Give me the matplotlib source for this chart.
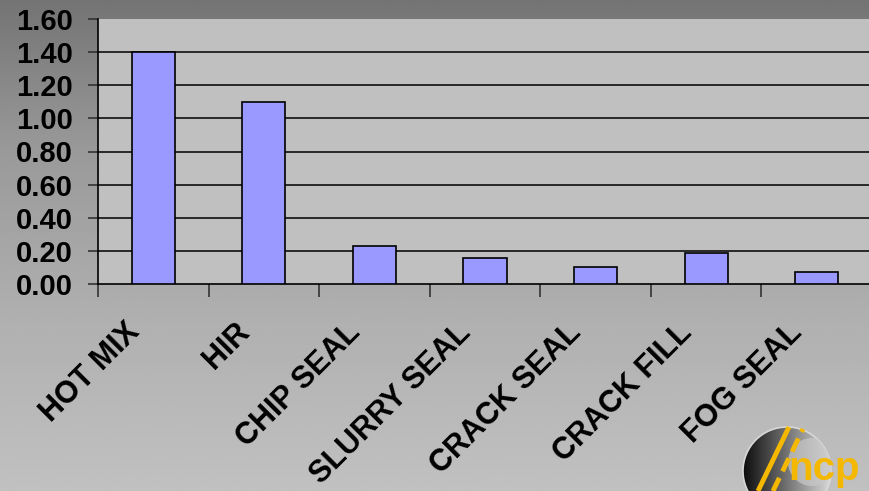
import numpy as np
import matplotlib
matplotlib.use("Agg")
import matplotlib.pyplot as plt
import matplotlib.transforms as mtransforms
from matplotlib.patches import Circle

# dados
tratamentos = ["HOT MIX", "HIR", "CHIP SEAL", "SLURRY SEAL", "CRACK SEAL", "CRACK FILL", "FOG SEAL"]
valores = [1.40, 1.10, 0.23, 0.155, 0.10, 0.19, 0.07]
marcas_y = [0.00, 0.20, 0.40, 0.60, 0.80, 1.00, 1.20, 1.40, 1.60]

plt.rcParams['font.family'] = ['Liberation Sans', 'DejaVu Sans']
plt.rcParams['font.weight'] = 'bold'

fig = plt.figure(figsize=(8.7, 4.91), dpi=100)

# fundo em degrade (cinza escuro em cima, claro embaixo)
fundo = fig.add_axes([0, 0, 1, 1], zorder=0)
pos = np.linspace(0, 1, 200)
tons = np.interp(pos, [0, 0.3, 0.65, 1.0], [0.455, 0.60, 0.69, 0.755])
fundo.imshow(np.repeat(tons[:, None], 2, axis=1), cmap='gray', vmin=0, vmax=1,
             aspect='auto', extent=[0, 1, 1, 0], interpolation='bilinear')
fundo.set_xlim(0, 1)
fundo.set_ylim(1, 0)
fundo.axis('off')

ax = fig.add_axes([98/870, 1 - 284/491, 774/870, 265/491], zorder=1)
ax.set_facecolor('#c0c0c0')

x = np.arange(len(tratamentos))
ax.bar(x, valores, width=0.39, color='#9999ff', edgecolor='black', linewidth=1.2, zorder=3)

ax.set_xlim(-0.5, len(tratamentos) - 0.5)
ax.set_ylim(0, 1.6)
ax.set_yticks(marcas_y)
ax.set_yticklabels(["%.2f" % v for v in marcas_y], fontsize=21, fontweight='bold')
for v in marcas_y[1:-1]:
    ax.axhline(v, color='black', linewidth=1.1, zorder=2)

ax.set_xticks(x)
ax.set_xticklabels(tratamentos, fontsize=22, fontweight='bold', rotation=45, ha='right', va='top')
ax.set_xticks(np.arange(len(tratamentos) + 1) - 0.5, minor=True)
ax.tick_params(axis='x', which='major', length=0, pad=24)
ax.tick_params(axis='x', which='minor', length=9, width=1.2, direction='out', color='#333333')
ax.tick_params(axis='y', length=7, width=1.2, direction='out', pad=11, color='#333333')

deslocamento = mtransforms.ScaledTranslation(-8/100, 0, fig.dpi_scale_trans)
for rotulo in ax.get_xticklabels():
    rotulo.set_transform(rotulo.get_transform() + deslocamento)

ax.spines['top'].set_visible(False)
ax.spines['right'].set_visible(False)
ax.spines['left'].set_linewidth(1.2)
ax.spines['bottom'].set_linewidth(1.2)

# logotipo ncp no canto
logo = fig.add_axes([0, 0, 1, 1], zorder=2)
logo.set_xlim(0, 870)
logo.set_ylim(491, 0)
logo.axis('off')
circulo = Circle((787, 471), 44, facecolor='none', edgecolor='#d8d8d8', linewidth=1.2)
logo.add_patch(circulo)
degrade = np.linspace(0.05, 0.85, 100)[None, :]
img = logo.imshow(np.repeat(degrade, 2, axis=0), cmap='gray', vmin=0, vmax=1,
                  extent=[743, 831, 515, 427], aspect='auto', interpolation='bilinear')
img.set_clip_path(circulo)
logo.add_patch(Circle((812, 462), 24, facecolor='#c8c8c8', edgecolor='none', alpha=0.7, clip_path=circulo))
logo.plot([758, 789], [491, 427], color='#f5b800', linewidth=3.5, solid_capstyle='butt')
logo.plot([773, 803], [491, 429], color='#f5b800', linewidth=3.5, linestyle=(0, (3, 1.5)))
logo.text(788, 480, "ncp", color='#f5b800', fontsize=29, fontweight='bold', ha='left', va='baseline')
logo.set_xlim(0, 870)
logo.set_ylim(491, 0)

fig.savefig("out.png", dpi=100)
